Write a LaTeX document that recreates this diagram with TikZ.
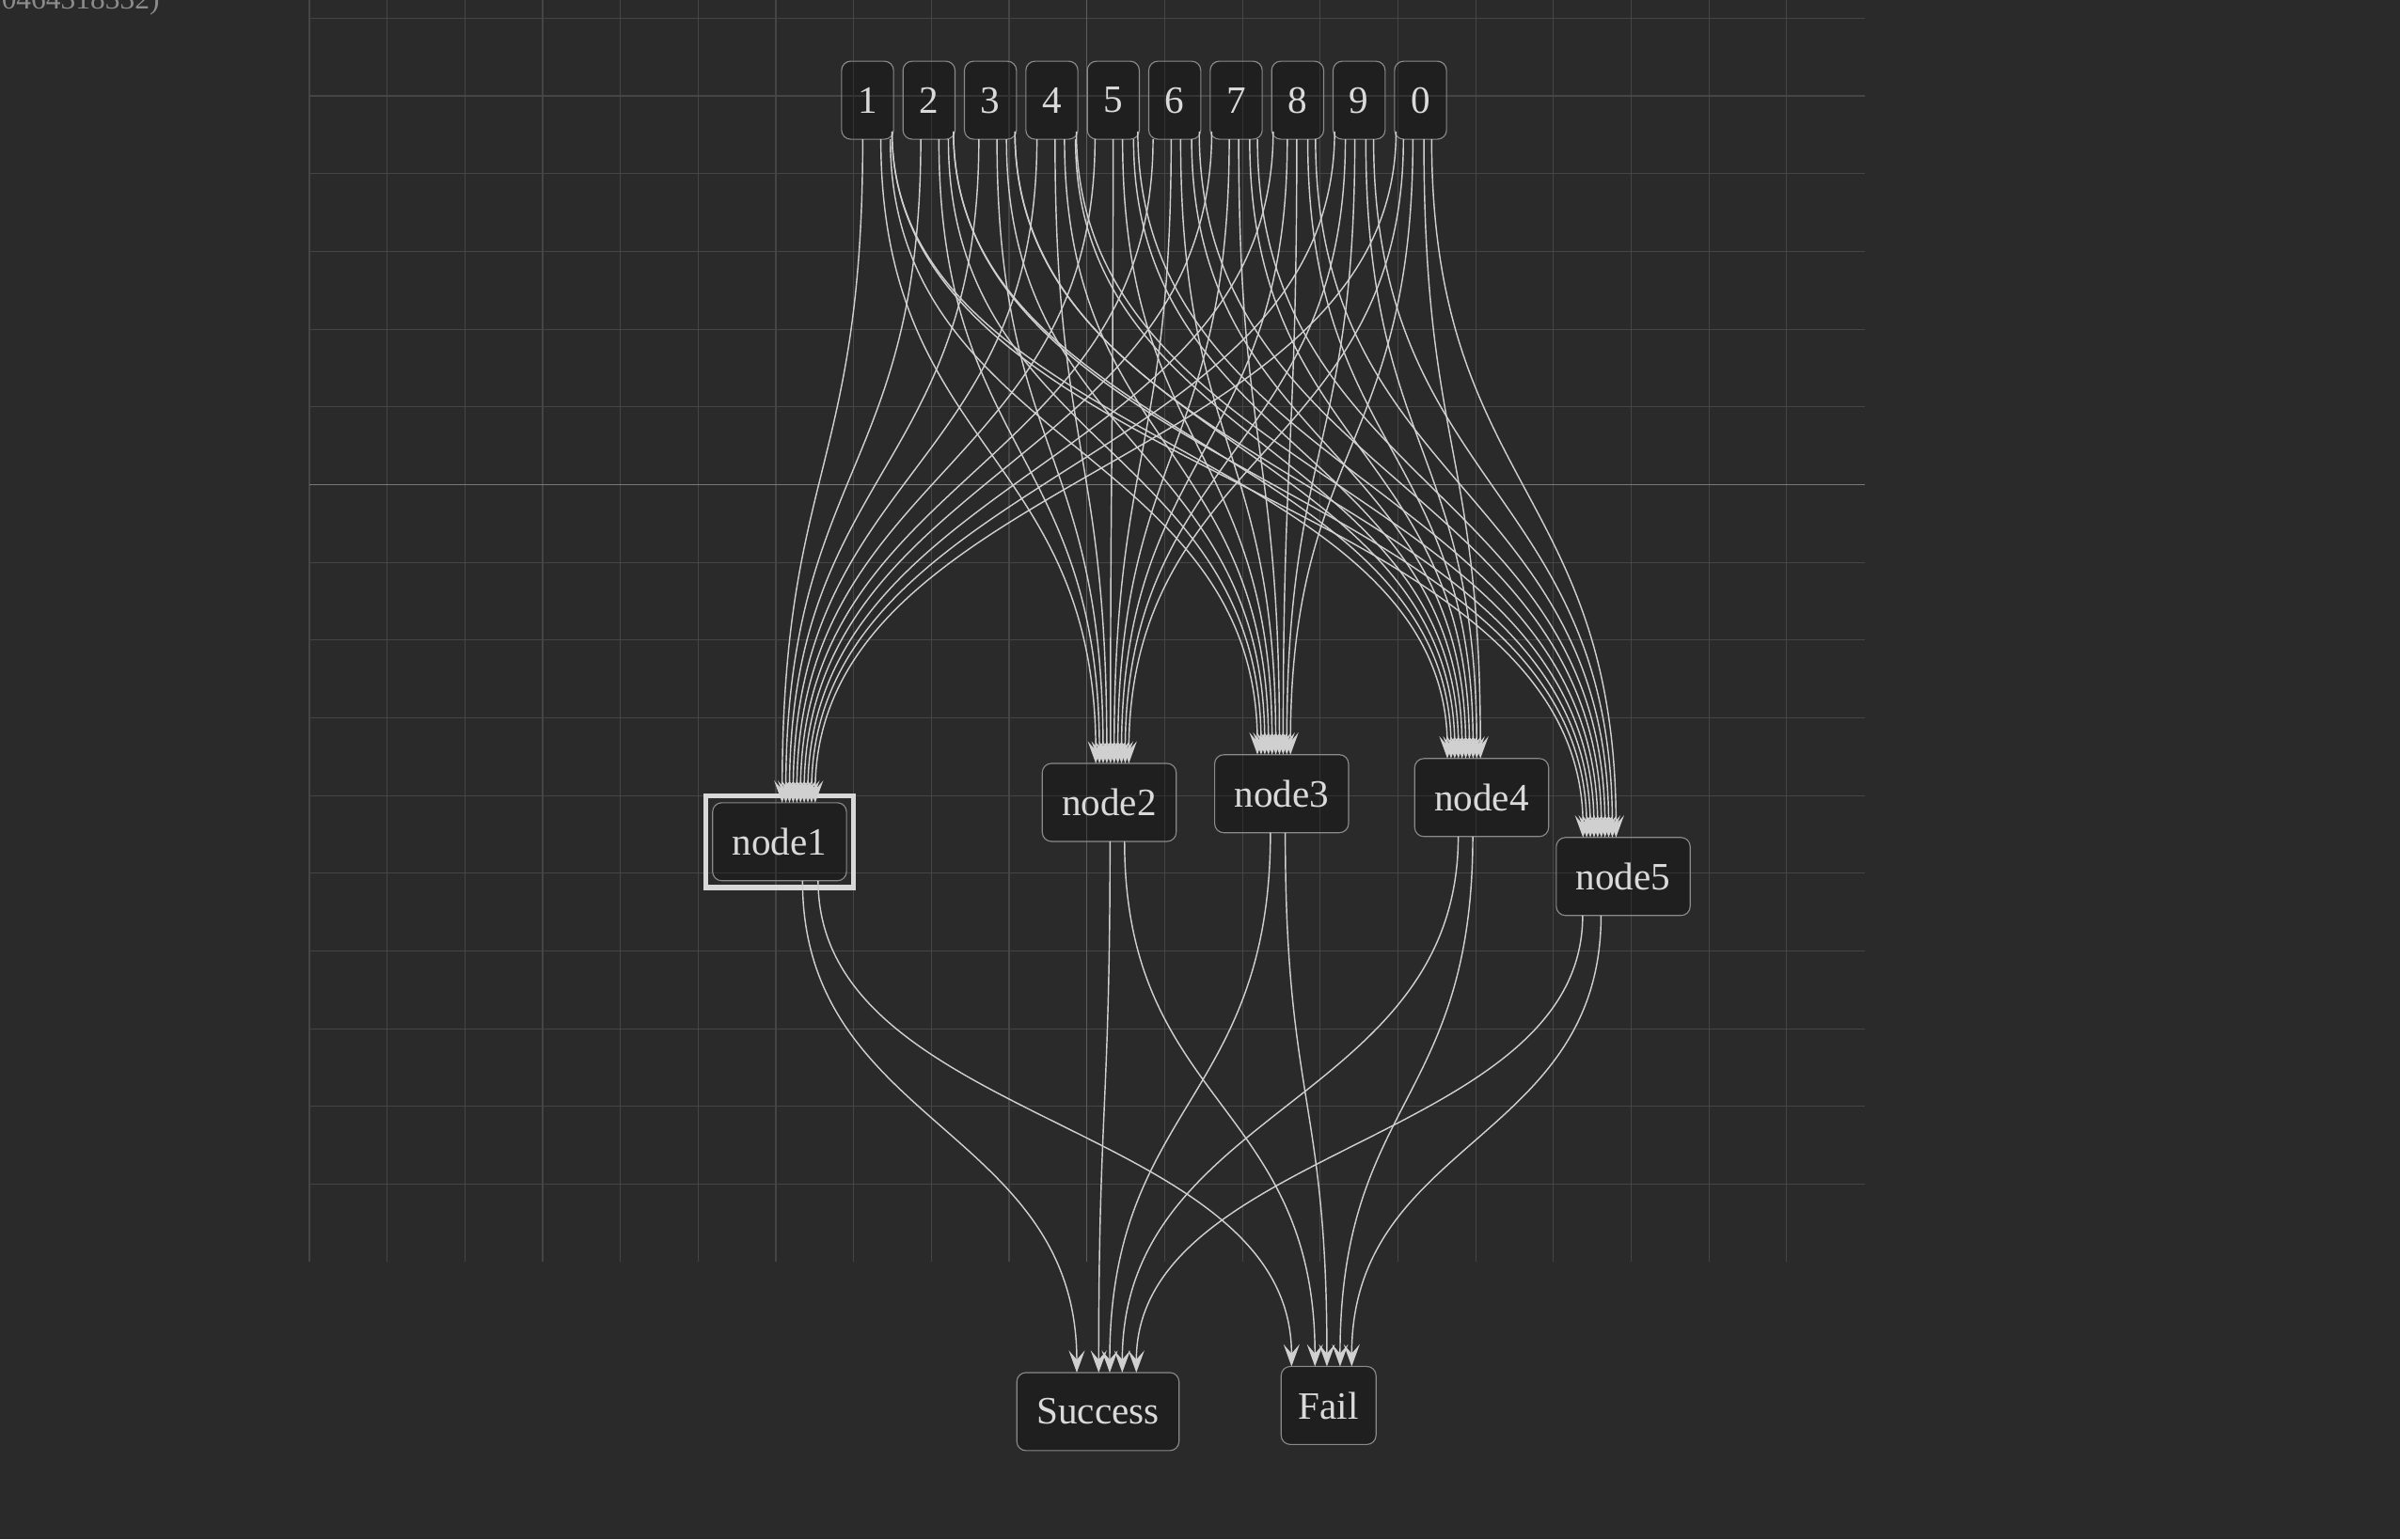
\documentclass[tikz,border=0pt]{standalone}
\usepackage{fontspec}
\setmainfont{Liberation Serif}
\usetikzlibrary{positioning, calc, fit, arrows.meta}
\definecolor{canvas}{HTML}{2A2A2A}
\definecolor{gridminor}{HTML}{454545}
\definecolor{gridmid}{HTML}{5E5E5E}
\definecolor{gridmajor}{HTML}{787878}
\definecolor{boxline}{HTML}{8A8A8A}
\definecolor{boxtext}{HTML}{DADADA}
\definecolor{wirecol}{HTML}{D0D0D0}
\definecolor{selcol}{HTML}{D8D8D8}
\definecolor{stampcol}{HTML}{8C8C8C}
\tikzset{
    box/.style={rectangle, rounded corners=0.12cm, draw=boxline, line width=0.4pt,
      fill=black, fill opacity=0.25, text opacity=1, text=boxtext, inner sep=0pt,
      outer sep=0pt, minimum height=1.02cm, font=\fontsize{14.4}{16}\selectfont},
    digit/.style={box, minimum width=0.68cm},
    stage/.style={box, minimum width=1.75cm},
    wire/.style={draw=wirecol, line width=0.5pt,
      -{Stealth[length=0.29cm, width=0.21cm, inset=0.12cm]}},
    gridline/.style={draw=gridminor, line width=0.4pt},
    selbox/.style={draw=selcol, line width=1.9pt, inner sep=0.09cm},
}
\begin{document}
\begin{tikzpicture}[x=0.02cm, y=-0.02cm]
    \fill[canvas] (0,0) rectangle (1568,1006);
    \useasboundingbox (0,0) rectangle (1568,1006);

    % grid
    \foreach \k in {0,...,19}
      \draw[gridline] (202.1+50.8*\k,0) -- (202.1+50.8*\k,824.5);
    \foreach \k in {0,...,15}
      \draw[gridline] (202.1,11.9+50.8*\k) -- (1218.2,11.9+50.8*\k);
    \draw[gridline, draw=gridmid] (710.1,0) -- (710.1,824.5);
    \draw[gridline, draw=gridmajor] (202.1,316.7) -- (1218.2,316.7);

    \node[anchor=base east, text=stampcol, inner sep=0pt,
      font=\fontsize{11}{13}\selectfont] (stamp) at (104.5,6.1) {0464318332)};

    \node[digit] (d1) at (566.8,65.5) {1};
    \node[digit, right=0.123cm of d1] (d2) {2};
    \node[digit, right=0.123cm of d2] (d3) {3};
    \node[digit, right=0.123cm of d3] (d4) {4};
    \node[digit, right=0.123cm of d4] (d5) {5};
    \node[digit, right=0.123cm of d5] (d6) {6};
    \node[digit, right=0.123cm of d6] (d7) {7};
    \node[digit, right=0.123cm of d7] (d8) {8};
    \node[digit, right=0.123cm of d8] (d9) {9};
    \node[digit, right=0.123cm of d9] (d10) {0};

    \node[stage] (n1) at (509.3,550.1) {node1};
    \node[stage] (n2) at (724.7,524.4) {node2};
    \node[stage] (n3) at (837.3,518.7) {node3};
    \node[stage] (n4) at (968,521.2) {node4};
    \node[stage] (n5) at (1060.5,572.8) {node5};
    \node[selbox, fit=(n1)] (n1sel) {};

    \node[box, minimum width=2.12cm] (ok) at (717.3,922.5) {Success};
    \node[box, minimum width=1.24cm] (fail) at (868,918.5) {Fail};

    % every digit into every stage
    \foreach \dn in {1,...,10}{
      \foreach \nn/\cx/\tc/\kk in {1/509.3/521.8/217, 2/724.7/726.7/204,
          3/837.3/832.3/201, 4/968/956.4/203, 5/1060.5/1045/228}{
        \pgfmathsetmacro\xd{566.8+40.16*(\dn-1)}
        \pgfmathsetmacro\ox{max(-16,min(16,0.055*(\cx-\xd)))}
        \pgfmathsetmacro\oy{-5*(abs(\ox)>15.9)}
        \pgfmathsetmacro\tx{\tc-\cx+2.4*(\dn-5.5)}
        \draw[wire] ($(d\dn.south)+(\ox,\oy)$) .. controls +(0,\kk) and +(0,-\kk)
          .. ($(n\nn.north)+(\tx,0)$);
      }
    }

    % stages into Success / Fail
    \foreach \nn/\so/\sf/\ts/\tf/\kk in {1/15/25.2/-13.8/-24.2/160,
        2/0.5/10/0.5/-8.9/172, 3/-7.3/2.4/7.7/-1.1/175,
        4/-15.3/-5.8/15.9/7.5/174, 5/-26.5/-14.5/25.1/15.1/148}{
      \draw[wire] ($(n\nn.south)+(\so,0)$) .. controls +(0,\kk) and +(0,-\kk)
        .. ($(ok.north)+(\ts,0)$);
      \draw[wire] ($(n\nn.south)+(\sf,0)$) .. controls +(0,\kk) and +(0,-\kk)
        .. ($(fail.north)+(\tf,0)$);
    }
\end{tikzpicture}
\end{document}
